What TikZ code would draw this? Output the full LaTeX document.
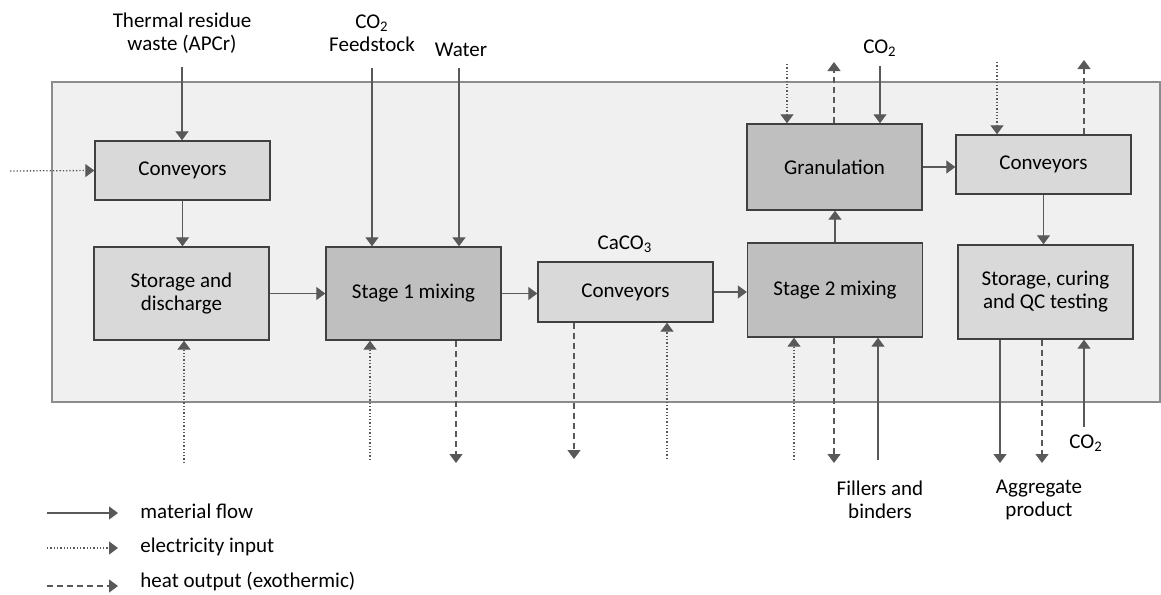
\documentclass[tikz,border=0pt]{standalone}
\usepackage{fontspec}
\setmainfont{Carlito}
\usetikzlibrary{arrows.meta,positioning}
\definecolor{bgfill}{HTML}{F0F0F0}
\definecolor{bgline}{HTML}{8C8C8C}
\definecolor{lightbox}{HTML}{D9D9D9}
\definecolor{darkbox}{HTML}{BFBFBF}
\definecolor{boxline}{HTML}{404040}
\definecolor{flowgray}{HTML}{595959}

\begin{document}
\begin{tikzpicture}[
  x=0.5pt, y=-0.5pt,
  every node/.style={font=\fontsize{10.5}{11.5}\selectfont, align=center, inner sep=1pt},
  box/.style={draw=boxline, line width=0.7pt, minimum width=87.5pt, inner sep=0pt},
  light/.style={box, fill=lightbox},
  dark/.style={box, fill=darkbox},
  flow/.style={draw=flowgray, line width=0.65pt, -{Triangle[width=6.5pt,length=4.5pt]}},
  elec/.style={flow, densely dotted},
  heat/.style={flow, dash pattern=on 3pt off 2pt}
]
\useasboundingbox (0,0) rectangle (1161,594);
\draw[draw=bgline, fill=bgfill, line width=0.6pt] (52,82) rectangle (1160,402);

\node[light, minimum height=29.5pt] (conv1) at (182.5,170.5) {Conveyors};
\node[light, minimum height=46.5pt] (store) at (181.5,293.5) {Storage and\\discharge};
\node[dark, minimum height=46.5pt] (mix1) at (413.5,293.5) {Stage 1 mixing};
\node[light, minimum height=30pt] (conv2) at (625.5,292) {Conveyors};
\node[dark, minimum height=47pt] (mix2) at (835,290) {Stage 2 mixing};
\node[dark, minimum height=43pt] (gran) at (834.5,167) {Granulation};
\node[light, minimum height=29.5pt] (conv3) at (1043.5,164.5) {Conveyors};
\node[light, minimum height=47pt] (cure) at (1045.5,292) {Storage, curing\\and QC testing};

\node (thermal) at (182,33) {Thermal residue\\waste (APCr)};
\node (co2feed) at (372,33) {CO\textsubscript{2}\\Feedstock};
\node (water) at (461,50) {Water};
\node (caco3) at (625,244) {CaCO\textsubscript{3}};
\node (co2gran) at (880,48) {CO\textsubscript{2}};
\node (fillers) at (880,500) {Fillers and\\binders};
\node (aggregate) at (1039,500) {Aggregate\\product};
\node (co2cure) at (1086,443) {CO\textsubscript{2}};

% material flow
\coordinate (thermalin) at (182,67);
\coordinate (feedin) at (372,68);
\coordinate (waterin) at (459,68);
\coordinate (co2granin) at (880,66);
\coordinate (fillersin) at (878,460);
\coordinate (productout) at (1000,463);
\coordinate (co2curein) at (1084,427);
\draw[flow] (thermalin) -- (conv1.north -| thermalin);
\draw[flow] (conv1.south) -- (conv1.south |- store.north);
\draw[flow] (store.east) -- (mix1.west);
\draw[flow] (feedin) -- (mix1.north -| feedin);
\draw[flow] (waterin) -- (mix1.north -| waterin);
\draw[flow] (mix1.east) -- (mix1.east -| conv2.west);
\draw[flow] (conv2.east) -- (conv2.east -| mix2.west);
\draw[flow] (mix2.north) -- (mix2.north |- gran.south);
\draw[flow] (co2granin) -- (gran.north -| co2granin);
\draw[flow] (fillersin) -- (mix2.south -| fillersin);
\draw[flow] (gran.east) -- (gran.east -| conv3.west);
\draw[flow] (conv3.south) -- (conv3.south |- cure.north);
\draw[flow] (cure.south -| productout) -- (productout);
\draw[flow] (co2curein) -- (cure.south -| co2curein);

% electricity input
\coordinate (elleft) at (10,171);
\draw[elec] (elleft) -- (conv1.west);
\foreach \n/\x/\y in {store/184/463, mix1/370/460, conv2/667/459, mix2/794/460}{
  \coordinate (el\n) at (\x,\y);
  \draw[elec] (el\n) -- (\n.south -| el\n);
}
\foreach \n/\x/\y in {gran/787/64, conv3/997/62}{
  \coordinate (el\n) at (\x,\y);
  \draw[elec] (el\n) -- (\n.north -| el\n);
}

% heat output
\foreach \n/\x/\y in {mix1/456/463, conv2/574/459, mix2/834/463, cure/1042/463}{
  \coordinate (ht\n) at (\x,\y);
  \draw[heat] (\n.south -| ht\n) -- (ht\n);
}
\foreach \n/\x/\y in {gran/834/62, conv3/1084/60}{
  \coordinate (ht\n) at (\x,\y);
  \draw[heat] (\n.north -| ht\n) -- (ht\n);
}

% legend
\node[anchor=west] (legmat) at (138,511) {material flow};
\node[anchor=west] (legelec) at (138,547) {electricity input};
\node[anchor=west] (legheat) at (138,582) {heat output (exothermic)};
\coordinate (legmatstart) at (47,513);
\coordinate (legelecstart) at (47,548);
\coordinate (legheatstart) at (47,586);
\draw[flow] (legmatstart) -- ++(71,0);
\draw[elec] (legelecstart) -- ++(71,0);
\draw[heat] (legheatstart) -- ++(71,0);
\end{tikzpicture}
\end{document}
